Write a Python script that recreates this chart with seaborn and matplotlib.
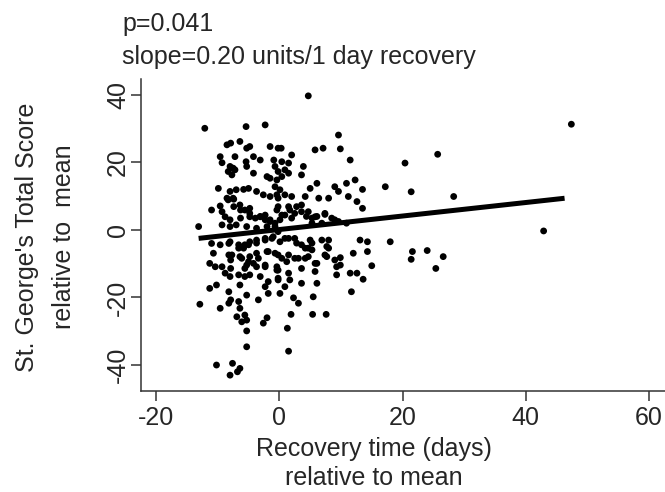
import numpy as np
import pandas as pd
import matplotlib
matplotlib.use('Agg')
import matplotlib.pyplot as plt
import seaborn as sns

# recovery time (days, relative to mean) and SGRQ total score (relative to mean)
recovery = [
    -12.1, -5.4, -2.3, -8.5, -7.9, -6.4, -5.3, -4.8, -1.5, -0.2,
    -9.6, -7.2, -9.3, -8.0, -7.5, -8.3, -7.7, -7.2, -5.4, -5.3,
    -4.2, -3.1, -0.9, -0.7, -4.2, -2.0, -1.5, -0.4, -9.9, -8.0,
    -7.0, -5.8, -5.0, -3.7, -2.6, -1.5, -0.4, -8.5, -7.4, -11.0,
    -9.6, -9.3, -7.4, -6.3, -4.8, -8.8, -8.0, -6.3, -4.8, -3.1,
    -2.3, -1.5, -0.4, -13.1, -9.3, -8.0, -7.0, -5.3, -3.7, -2.0,
    -0.7,
    -11.0, -9.6, -8.2, -6.6, -5.6, -4.8, -3.7, -2.3, -1.0, -10.7,
    -8.2, -7.9, -6.1, -4.8, -3.7, -2.0, -0.7, -11.3, -10.4, -9.3,
    -7.9, -5.3, -4.2, -3.7, -2.3, -0.4, -8.8, -8.0, -6.6, -5.6,
    -4.8, -3.1, -1.8, -0.2, -11.3, -10.2, -8.2, -6.4, -2.3, -1.8,
    -5.3, -3.4, -12.9, -9.6, -8.2, -7.9, -6.6, -6.4, -6.9, -5.6,
    -5.3, -6.1, -2.0, -2.6, -5.3, -5.3, -10.2, -7.6, -6.4, -6.8,
    -8.0,
    4.7, 9.6, 0.3, 5.8, 7.1, 9.9, 11.5, 20.4, 2.0, 0.4,
    1.5, 0.9, -0.2, 0.4, 1.5, 3.9, 3.6, 17.2, 12.3, 10.9,
    13.5, 6.1, 5.0, 9.0, 9.6, 8.0, 6.4, 11.2, 12.6, 13.5,
    -0.7, 0.1, -0.2, 0.9, 2.0, 4.2, -0.2, 1.5, 3.6, 4.7,
    2.5, 0.4, 2.0, 7.4, 5.8, 5.3, 6.9, 9.0, 10.9,
    5.0, 8.0, 7.7, 13.1, 14.3, 18.0, 5.3, 7.7, 9.9, 12.0,
    14.3, 15.0, 9.3, 9.9, 11.5, 12.6, 13.6, 9.3, -0.2, 0.9,
    2.5, 3.6, 4.7, 4.2, 5.8, 3.1, 1.5, 0.4, -0.4, 1.5,
    1.7, -0.2, 3.6, 6.1, 0.9, 0.1, 5.5, 2.3, 3.1, 11.7,
    1.9, 5.4, 7.6, 1.3, 1.5,
    25.7, 21.4, 28.3, 42.9, 21.6, 21.4, 24.0, 26.6, 25.4, 47.4,
    -8.3, -7.5, -6.4, -5.6, -4.8, -3.9, -3.1, -2.3, -1.5, -0.7,
    0.1, 0.9, 1.7, 2.8, 3.6, 4.4, 5.3, 6.1, 7.4, 8.5,
    9.6,
    -8.0, -6.6, -5.8, -5.0, -3.7, -2.3, -1.2, 0.1, 1.5, 2.8,
    4.2, 5.3, 6.9, 8.0, -7.7, -6.4, -5.0, -3.4, -1.8, -0.2,
    1.2, 2.5, 4.7, 6.1, 7.4, 9.0, -5.6, -2.3, -0.2, 3.6,
    5.8,
]
score = [
    30.1, 30.6, 31.1, 25.2, 25.7, 26.2, 24.2, 24.7, 24.7, 24.2,
    21.7, 21.7, 19.9, 18.8, 18.3, 17.3, 16.3, 17.8, 20.2, 18.8,
    21.7, 20.7, 20.7, 18.8, 16.8, 15.8, 15.3, 14.8, 12.3, 11.4,
    11.9, 12.0, 12.3, 11.4, 10.4, 9.9, 10.4, 9.4, 9.1, 5.9,
    7.1, 5.4, 6.9, 5.9, 6.4, 3.9, 3.0, 3.5, 3.9, 3.9,
    4.4, 3.0, 5.9, 1.0, 1.5, 1.0, 1.5, 1.0, 0.5, 1.0,
    1.0,
    -4.0, -4.4, -4.0, -5.4, -4.4, -3.5, -3.0, -2.5, -2.0, -6.9,
    -7.4, -8.9, -8.4, -7.9, -6.9, -6.4, -6.9, -9.9, -10.9, -10.9,
    -11.4, -10.4, -9.9, -10.9, -10.4, -10.9, -12.8, -13.8, -13.3, -13.8,
    -13.3, -13.8, -15.3, -14.8, -17.3, -16.3, -18.3, -16.3, -16.8, -18.8,
    -19.3, -20.7, -22.0, -23.2, -21.7, -20.7, -21.2, -23.2, -25.7, -25.2,
    -26.7, -27.2, -26.0, -27.6, -29.9, -34.6, -40.0, -39.5, -41.0, -42.0,
    -43.0,
    39.7, 28.1, 24.2, 23.7, 24.2, 24.0, 20.7, 19.8, 22.2, 20.2,
    19.8, 17.8, 17.3, 15.8, 16.8, 18.8, 16.3, 12.8, 14.8, 13.8,
    12.0, 13.8, 12.3, 12.8, 11.4, 9.4, 9.4, 9.9, 8.4, 6.4,
    12.8, 11.9, 9.4, 10.4, 9.9, 9.9, 6.9, 6.9, 7.4, 5.4,
    4.9, 4.4, 3.5, 4.6, 3.9, 2.0, 2.0, 3.0, 2.0,
    -3.0, -3.0, -4.9, -3.0, -3.5, -3.5, -5.9, -7.9, -8.2, -6.9,
    -6.4, -10.6, -10.9, -10.4, -12.8, -12.8, -14.6, -13.3, -0.5, -2.5,
    -2.5, -4.4, -5.4, -8.4, -9.9, -8.4, -7.4, -8.4, -11.9, -12.8,
    -14.8, -14.3, -15.8, -15.8, -16.8, -18.8, -19.8, -20.1, -21.7, -18.3,
    -25.0, -25.0, -25.0, -29.1, -35.9,
    22.4, 11.3, 9.9, -0.3, -6.4, -8.7, -6.1, -7.9, -11.4, 31.3,
    8.9, 9.4, 7.4, 5.9, 4.9, 3.5, 4.0, 3.0, 2.5, 2.0,
    3.0, 4.4, 5.9, 6.9, 5.4, 4.0, 3.5, 4.0, 4.9, 3.5,
    2.5,
    -3.5, -4.4, -5.4, -4.4, -3.9, -3.0, -2.5, -3.5, -2.5, -3.9,
    -5.4, -3.9, -3.0, -5.4, -7.4, -7.9, -9.4, -8.4, -6.4, -7.4,
    -9.4, -8.4, -7.9, -9.9, -7.4, -8.9, -11.4, -10.9, -11.9, -11.4,
    -12.3,
]

# fitted line
slope = 0.20
intercept = 0.12
fit_range = [-13.1, 46.3]

df = pd.DataFrame({'recovery': recovery, 'score': score})
fit = pd.DataFrame({'recovery': fit_range})
fit['score'] = intercept + slope * fit['recovery']

sns.set_style('ticks')
plt.rcParams['font.family'] = ['Liberation Sans', 'DejaVu Sans']
plt.rcParams['axes.unicode_minus'] = False
fs = 18

fig = plt.figure(figsize=(6.65, 4.92), dpi=100)
ax = fig.add_axes([0.2116, 0.2059, 0.7884, 0.6329])

sns.scatterplot(data=df, x='recovery', y='score', color='black', s=24,
                edgecolor='none', ax=ax)
sns.lineplot(data=fit, x='recovery', y='score', color='black', lw=3.6,
             solid_capstyle='butt', ax=ax)

ax.set_xlim(-22.5, 62.6)
ax.set_ylim(-47.6, 44.6)
ax.set_xticks([-20, 0, 20, 40, 60])
ax.set_yticks([-40, -20, 0, 20, 40])
sns.despine(ax=ax)
for side in ['left', 'bottom']:
    ax.spines[side].set_linewidth(1.1)
    ax.spines[side].set_color('#333333')
ax.tick_params(length=7.2, width=1.1, color='#333333', labelsize=fs, pad=3.5)
ax.tick_params(axis='y', labelrotation=90, pad=0.5)
for lab in ax.get_yticklabels():
    lab.set_va('center')

ax.set_xlabel('Recovery time (days)\nrelative to mean', fontsize=fs,
              linespacing=1.28, va='baseline')
ax.xaxis.set_label_coords(0.444, -0.303)
ax.set_ylabel("St. George's Total Score\nrelative to  mean", fontsize=fs,
              linespacing=1.7, va='baseline')
ax.yaxis.set_label_coords(-0.158, 0.494)

fig.text(122 / 665, 1 - 31 / 492, 'p=0.041', fontsize=fs, va='baseline')
fig.text(122 / 665, 1 - 64 / 492, 'slope=0.20 units/1 day recovery',
         fontsize=fs, va='baseline')

fig.savefig('out.png', dpi=100)
